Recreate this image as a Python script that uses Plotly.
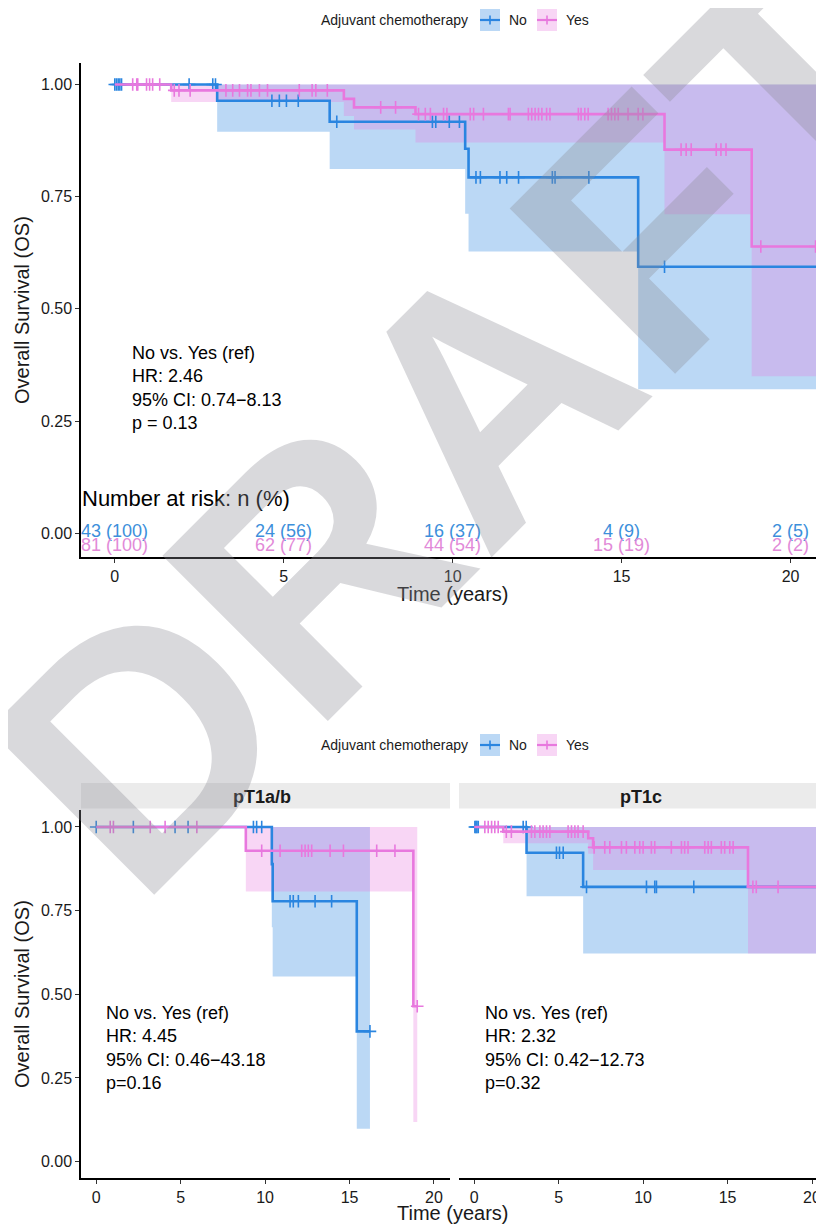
import plotly.graph_objects as go

# The page body adds an 8px margin; the figure is sized to fill the rest of the window.
OFF = 8
W, H = 824 - OFF, 1225 - OFF

# ---------------- data ----------------
# Top panel: all patients
top_no_time = [0, 3.03, 6.36, 10.37, 10.47, 15.49]
top_no_surv = [1.0, 0.964, 0.917, 0.857, 0.793, 0.594]
top_no_lower = [1.0, 0.895, 0.812, 0.712, 0.628, 0.321]
top_no_upper = [1.0, 1.0, 1.0, 1.0, 1.0, 1.0]
top_no_end = 22.0
top_no_censor = [0.0, 0.05, 0.1, 0.15, 0.2, 2.2, 2.9, 2.98, 4.65, 4.87, 5.08, 5.43, 6.57,
                 9.4, 9.5, 9.9, 10.2, 10.69, 10.82, 11.4, 11.6, 11.95, 12.95, 13.03, 14.03, 16.27]

top_yes_time = [0, 1.67, 6.78, 7.08, 8.9, 16.27, 18.85]
top_yes_surv = [1.0, 0.987, 0.968, 0.949, 0.934, 0.855, 0.639]
top_yes_lower = [1.0, 0.961, 0.93, 0.90, 0.871, 0.711, 0.35]
top_yes_upper = [1.0, 1.0, 1.0, 1.0, 1.0, 1.0, 1.0]
top_yes_end = 22.0
top_yes_censor = [0.53, 0.65, 0.68, 0.94, 1.03, 1.12, 1.33, 1.76, 1.9, 2.23, 3.29, 3.49, 3.69,
                  3.93, 4.03, 4.28, 4.52, 5.46, 5.84, 5.95, 6.29, 7.87, 8.31, 8.99, 9.19, 9.34,
                  9.73, 9.83, 10.52, 10.62, 10.91, 11.65, 11.7, 12.24, 12.34, 12.44, 12.54,
                  12.64, 12.78, 12.88, 13.72, 13.8, 13.91, 14.01, 14.6, 14.7, 14.8, 14.9, 15.19,
                  15.49, 15.63, 16.76, 16.91, 17.06, 17.8, 17.94, 18.09, 19.12, 20.74]

risk_times = [0, 5, 10, 15, 20]
risk_no = ["43 (100)", "24 (56)", "16 (37)", "4 (9)", "2 (5)"]
risk_yes = ["81 (100)", "62 (77)", "44 (54)", "15 (19)", "2 (2)"]

# Lower left: pT1a/b
a_no_time = [0, 10.4, 10.45, 15.43]
a_no_surv = [1.0, 0.889, 0.778, 0.389]
a_no_lower = [1.0, 0.70, 0.553, 0.098]
a_no_upper = [1.0, 1.0, 1.0, 1.0]
a_no_end = 16.21
a_no_censor = [0.0, 2.2, 4.67, 5.44, 9.31, 9.5, 9.8, 11.48, 11.67, 11.97, 12.96, 13.94, 16.21]

a_yes_time = [0, 8.86, 18.78]
a_yes_surv = [1.0, 0.929, 0.464]
a_yes_lower = [1.0, 0.807, 0.118]
a_yes_upper = [1.0, 1.0, 1.0]
a_yes_end = 19.01
a_yes_censor = [0.83, 1.02, 3.2, 4.08, 5.96, 9.8, 10.89, 12.17, 12.37, 12.56, 12.76, 13.85,
                14.64, 16.61, 17.69, 19.01]

# Lower right: pT1c
c_no_time = [0, 3.1, 6.45]
c_no_surv = [1.0, 0.923, 0.821]
c_no_lower = [1.0, 0.793, 0.622]
c_no_upper = [1.0, 1.0, 1.0]
c_no_end = 22.0
c_no_censor = [0.04, 0.1, 0.16, 0.24, 2.9, 3.08, 4.87, 5.05, 5.27, 6.65, 10.2, 10.69, 10.79, 13.0]

c_yes_time = [0, 1.72, 6.75, 7.04, 16.21]
c_yes_surv = [1.0, 0.986, 0.966, 0.939, 0.821]
c_yes_lower = [1.0, 0.951, 0.92, 0.871, 0.622]
c_yes_upper = [1.0, 1.0, 1.0, 1.0, 1.0]
c_yes_end = 22.0
c_yes_censor = [0.63, 0.83, 1.03, 1.22, 1.42, 1.9, 2.2, 3.39, 3.59, 3.89, 4.08, 4.28, 4.48,
                5.56, 5.76, 5.96, 6.15, 6.45, 7.1, 7.73, 8.03, 8.72, 9.01, 9.51, 9.8, 10.0,
                10.49, 10.69, 11.67, 12.27, 12.46, 12.66, 13.65, 13.85, 14.04, 14.63, 14.83,
                15.13, 15.33, 16.5, 16.7, 17.99]

hr_top = "No vs. Yes (ref)<br>HR: 2.46<br>95% CI: 0.74\u22128.13<br>p = 0.13"
hr_a = "No vs. Yes (ref)<br>HR: 4.45<br>95% CI: 0.46\u221243.18<br>p=0.16"
hr_c = "No vs. Yes (ref)<br>HR: 2.32<br>95% CI: 0.42\u221212.73<br>p=0.32"

# ---------------- styles ----------------
BLUE = "#2A85E0"
PINK = "#E878DE"
BLUE_FILL = "rgba(42,133,224,0.32)"
PINK_FILL = "rgba(232,120,222,0.30)"
FONT = "Liberation Sans, Arial, sans-serif"


def px(x):
    return min(1.0, (x - OFF) / W)


def py(y):
    return 1 - (y - OFF) / H


def step_path(times, vals, end):
    xs, ys = [], []
    for i, t in enumerate(times):
        t_next = times[i + 1] if i + 1 < len(times) else end
        xs += [t, t_next]
        ys += [vals[i], vals[i]]
    return xs, ys


def surv_at(times, vals, c):
    s = vals[0]
    for t, v in zip(times, vals):
        if t <= c:
            s = v
    return s


fig = go.Figure()


def add_band(times, surv, lower, upper, end, censor, color, fill, xa, ya):
    ux, uy = step_path(times, upper, end)
    lx, ly = step_path(times, lower, end)
    fig.add_trace(go.Scatter(x=ux + lx[::-1], y=uy + ly[::-1], fill="toself", fillcolor=fill,
                             line=dict(width=0), mode="lines", hoverinfo="skip",
                             showlegend=False, xaxis=xa, yaxis=ya))


def add_line(times, surv, end, censor, color, xa, ya):
    fig.add_trace(go.Scatter(x=list(times) + [end], y=list(surv) + [surv[-1]], mode="lines",
                             line=dict(color=color, width=2.6, shape="hv"),
                             showlegend=False, xaxis=xa, yaxis=ya))
    fig.add_trace(go.Scatter(x=censor, y=[surv_at(times, surv, c) for c in censor],
                             mode="markers",
                             marker=dict(symbol="cross-thin", size=9,
                                         line=dict(color=color, width=1.6)),
                             showlegend=False, xaxis=xa, yaxis=ya))


panels = [
    ("x", "y",
     (top_no_time, top_no_surv, top_no_lower, top_no_upper, top_no_end, top_no_censor),
     (top_yes_time, top_yes_surv, top_yes_lower, top_yes_upper, top_yes_end, top_yes_censor)),
    ("x2", "y2",
     (a_no_time, a_no_surv, a_no_lower, a_no_upper, a_no_end, a_no_censor),
     (a_yes_time, a_yes_surv, a_yes_lower, a_yes_upper, a_yes_end, a_yes_censor)),
    ("x3", "y3",
     (c_no_time, c_no_surv, c_no_lower, c_no_upper, c_no_end, c_no_censor),
     (c_yes_time, c_yes_surv, c_yes_lower, c_yes_upper, c_yes_end, c_yes_censor)),
]

for xa, ya, no, yes in panels:
    add_band(*no, BLUE, BLUE_FILL, xa, ya)
    add_band(*yes, PINK, PINK_FILL, xa, ya)
    add_line(no[0], no[1], no[4], no[5], BLUE, xa, ya)
    add_line(yes[0], yes[1], yes[4], yes[5], PINK, xa, ya)

axis_common = dict(showline=True, linecolor="black", linewidth=1.5, ticks="outside",
                   ticklen=4, tickwidth=1.2, tickcolor="#333333", showgrid=False,
                   zeroline=False, automargin=False,
                   tickfont=dict(family=FONT, size=16, color="#1a1a1a"))

# geometry (reference pixels)
top_y0, top_y1 = 63, 557
low_y0, low_y1 = 810.2, 1178.3

fig.update_layout(
    width=W, height=H, margin=dict(l=0, r=0, t=0, b=0, autoexpand=False),
    paper_bgcolor="white", plot_bgcolor="rgba(0,0,0,0)", showlegend=False,
    xaxis=dict(domain=[px(81), 1.0], range=[-1.0, 20.99], tickvals=[0, 5, 10, 15, 20],
               anchor="y", **axis_common),
    yaxis=dict(domain=[py(top_y1), py(top_y0)], range=[-0.053, 1.048],
               tickvals=[0, 0.25, 0.5, 0.75, 1.0], tickformat=".2f", anchor="x", **axis_common),
    xaxis2=dict(domain=[px(81), px(450)], range=[-0.9, 20.95], tickvals=[0, 5, 10, 15, 20],
                anchor="y2", **axis_common),
    yaxis2=dict(domain=[py(low_y1), py(low_y0)], range=[-0.05, 1.05],
                tickvals=[0, 0.25, 0.5, 0.75, 1.0], tickformat=".2f", anchor="x2", **axis_common),
    xaxis3=dict(domain=[px(459), 1.0], range=[-0.9, 20.71], tickvals=[0, 5, 10, 15, 20],
                anchor="y3", **axis_common),
    yaxis3=dict(domain=[py(low_y1), py(low_y0)], range=[-0.05, 1.05], showline=False,
                showticklabels=False, ticks="", showgrid=False, zeroline=False,
                automargin=False, anchor="x3"),
)

shapes = []
annotations = []

# strips
for (x0, x1, label, cx) in [(81, 450, "pT1a/b", 262), (459, 824, "pT1c", 641)]:
    shapes.append(dict(type="rect", xref="paper", yref="paper", x0=px(x0), x1=px(x1),
                       y0=py(808.5), y1=py(783), fillcolor="#EBEBEB", line=dict(width=0)))
    annotations.append(dict(text="<b>%s</b>" % label, xref="paper", yref="paper", x=px(cx),
                            y=py(797), xanchor="center", yanchor="middle", showarrow=False,
                            font=dict(family=FONT, size=18, color="#1a1a1a")))

# legends
for cy in [20, 745]:
    annotations.append(dict(text="Adjuvant chemotherapy", xref="paper", yref="paper", x=px(470),
                            y=py(cy), xanchor="right", yanchor="middle", showarrow=False,
                            font=dict(family=FONT, size=14, color="#1a1a1a")))
    for (kx, col, fill, lab) in [(480, BLUE, BLUE_FILL, "No"), (537, PINK, PINK_FILL, "Yes")]:
        shapes.append(dict(type="rect", xref="paper", yref="paper", x0=px(kx), x1=px(kx + 20),
                           y0=py(cy + 11), y1=py(cy - 11), fillcolor=fill, line=dict(width=0)))
        shapes.append(dict(type="line", xref="paper", yref="paper", x0=px(kx), x1=px(kx + 20),
                           y0=py(cy), y1=py(cy), line=dict(color=col, width=2.2)))
        shapes.append(dict(type="line", xref="paper", yref="paper", x0=px(kx + 10),
                           x1=px(kx + 10), y0=py(cy - 4.5), y1=py(cy + 4.5),
                           line=dict(color=col, width=1.6)))
        annotations.append(dict(text=lab, xref="paper", yref="paper", x=px(kx + 27), y=py(cy),
                                xanchor="left", yanchor="middle", showarrow=False,
                                font=dict(family=FONT, size=14, color="#1a1a1a")))

# axis titles
for cy in [310, 994]:
    annotations.append(dict(text="Overall Survival (OS)", xref="paper", yref="paper", x=px(22),
                            y=py(cy), xanchor="center", yanchor="middle", textangle=-90,
                            showarrow=False, font=dict(family=FONT, size=20, color="#1a1a1a")))
for cy in [594, 1213]:
    annotations.append(dict(text="Time (years)", xref="paper", yref="paper", x=px(453),
                            y=py(cy), xanchor="center", yanchor="middle", showarrow=False,
                            font=dict(family=FONT, size=20, color="#1a1a1a")))

# HR texts
for (tx, ty, txt) in [(130, 341, hr_top), (104, 1001, hr_a), (483, 1001, hr_c)]:
    annotations.append(dict(text=txt, xref="paper", yref="paper", x=px(tx), y=py(ty),
                            xanchor="left", yanchor="top", align="left", showarrow=False,
                            font=dict(family=FONT, size=18, color="black")))

# number at risk
annotations.append(dict(text="Number at risk: n (%)", xref="paper", yref="paper", x=px(80),
                        y=py(498), xanchor="left", yanchor="middle", showarrow=False,
                        font=dict(family=FONT, size=22, color="black")))
for t, a, b in zip(risk_times, risk_no, risk_yes):
    annotations.append(dict(text=a, xref="x", yref="paper", x=t, y=py(531), xanchor="center",
                            yanchor="middle", showarrow=False,
                            font=dict(family=FONT, size=18, color="#3D8FDB")))
    annotations.append(dict(text=b, xref="x", yref="paper", x=t, y=py(545), xanchor="center",
                            yanchor="middle", showarrow=False,
                            font=dict(family=FONT, size=18, color="#E28AD8")))

# watermark
annotations.append(dict(text="<b>DRAFT</b>", xref="paper", yref="paper", x=px(462), y=py(420),
                        xanchor="center", yanchor="middle", textangle=-45, showarrow=False,
                        font=dict(family=FONT, size=340, color="rgba(140,140,150,0.33)")))

fig.update_layout(shapes=shapes, annotations=annotations)
fig.write_html("out.html")
